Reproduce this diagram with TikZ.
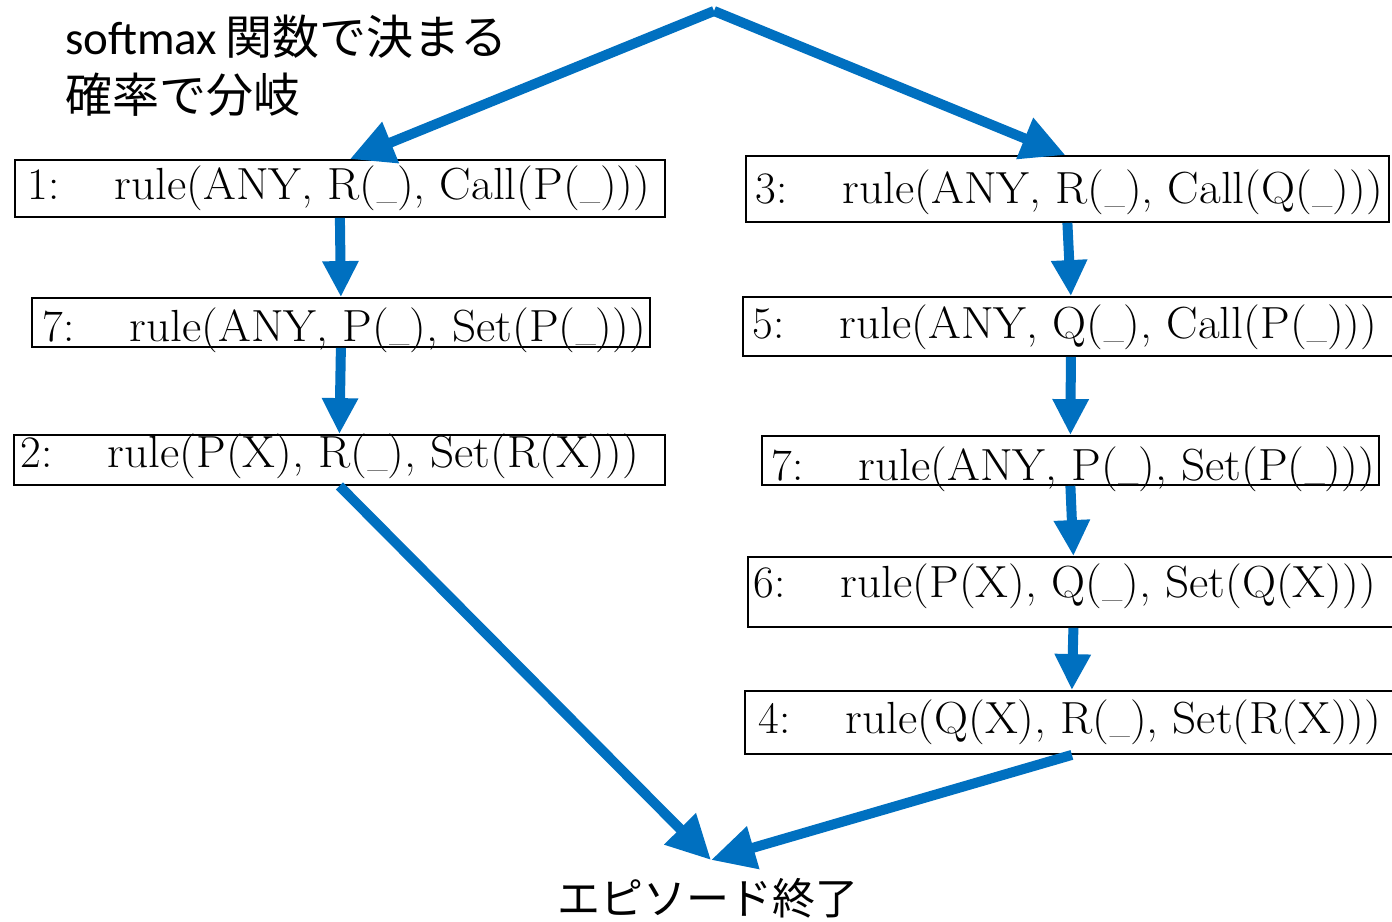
\documentclass[tikz,border=0pt]{standalone}
\usepackage{fontspec}
\usetikzlibrary{arrows.meta}
\newfontfamily\jpfont{Noto Sans CJK JP}
\newfontfamily\latfont{Carlito}
\definecolor{arrblue}{HTML}{0070C0}
\newcommand{\usc}{{\fontsize{28}{28}\selectfont\_}}
% #1 box width, #2 left pad, #3 number, #4 rule text
\newcommand{\rl}[4]{\makebox[#1][l]{\hspace*{#2}\makebox[87pt][l]{#3}\scalebox{1.05}[1]{#4}}}
\tikzset{
  rulebox/.style={draw=black, line width=1.8pt, inner sep=0pt, anchor=base west,
    font=\fontsize{45}{50}\selectfont},
  varr/.style={draw=arrblue, line width=10pt, -{Triangle[length=36pt,width=34pt]}},
  darr/.style={draw=arrblue, line width=10pt, -{Triangle[length=44pt,width=42pt]}},
  jplabel/.style={inner sep=0pt, anchor=base west, font=\jpfont\fontsize{47}{56}\selectfont},
  endlabel/.style={inner sep=0pt, anchor=base, font=\jpfont\fontsize{43}{50}\selectfont},
}
\begin{document}
\begin{tikzpicture}[x=1pt,y=-1pt]
\fill[white] (0,0) rectangle (1392,921);
\clip (0,0) rectangle (1392,921);
% labels
\node[jplabel] (lbl1) at (65,54) {{\latfont softmax}\hspace{8pt}関数で決まる};
\node[jplabel] (lbl2) at (65,112) {確率で分岐};
\node[endlabel] (endlbl) at (708,914) {エピソード終了};
% left column
\node[rulebox, text height=39pt, text depth=18pt] (b1) at (14,199)
  {\rl{650pt}{13pt}{1:}{rule(ANY, R(\usc), Call(P(\usc)))}};
\node[rulebox, text height=43pt, text depth=6pt] (b7l) at (31,341)
  {\rl{618pt}{11pt}{7:}{rule(ANY, P(\usc), Set(P(\usc)))}};
\node[rulebox, text height=32pt, text depth=18pt] (b2) at (13,467)
  {\rl{651pt}{7pt}{2:}{rule(P(X), R(\usc), Set(R(X)))}};
% right column
\node[rulebox, text height=47pt, text depth=19pt] (b3) at (745,203)
  {\rl{643pt}{10pt}{3:}{rule(ANY, R(\usc), Call(Q(\usc)))}};
\node[rulebox, text height=41pt, text depth=18pt] (b5) at (742,338)
  {\rl{656pt}{10pt}{5:}{rule(ANY, Q(\usc), Call(P(\usc)))}};
\node[rulebox, text height=44pt, text depth=5pt] (b7r) at (761,480)
  {\rl{617pt}{10pt}{7:}{rule(ANY, P(\usc), Set(P(\usc)))}};
\node[rulebox, text height=40pt, text depth=30pt] (b6) at (747,597)
  {\rl{651pt}{6pt}{6:}{rule(P(X), Q(\usc), Set(Q(X)))}};
\node[rulebox, text height=42pt, text depth=21pt] (b4) at (744,733)
  {\rl{654pt}{14pt}{4:}{rule(Q(X), R(\usc), Set(R(X)))}};
% connectors
\coordinate (top) at (714,11);
\coordinate (fin) at (711,860);
\draw[darr] (top) -- ([xshift=10pt]b1.north);
\draw[darr] (top) -- ([xshift=-2pt]b3.north);
\draw[varr] (b1.south) -- (b7l.north);
\draw[varr] (b7l.south) -- (b2.north);
\draw[varr] (b3.south) -- (b5.north);
\draw[varr] (b5.south) -- (b7r.north);
\draw[varr] (b7r.south) -- (b6.north);
\draw[varr] (b6.south) -- (b4.north);
\draw[darr] (b2.south) -- (fin);
\draw[darr] (b4.south) -- (fin);
\end{tikzpicture}
\end{document}
